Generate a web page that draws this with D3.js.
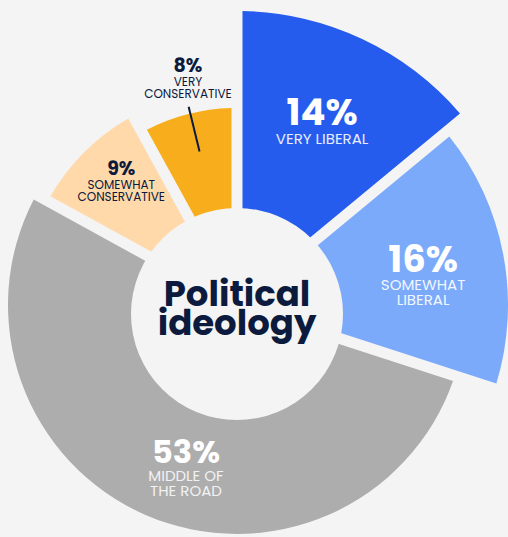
<!DOCTYPE html>
<html lang="en">
<head>
  <meta charset="UTF-8">
  <title>Political ideology</title>
  <script src="https://d3js.org/d3.v7.min.js"></script>
  <style>
    body, html {
      margin: 0;
      background: #f4f4f4;
    }
    svg { display: block; }
  </style>
</head>
<body>
  <svg width="508" height="537"></svg>
  <script>
    // data, clockwise from 12 o'clock
    const categories = ["very liberal", "somewhat liberal", "middle of the road", "somewhat conservative", "very conservative"];
    const shares = [14, 16, 53, 9, 8];
    const labelLines = [["VERY LIBERAL"], ["SOMEWHAT", "LIBERAL"], ["MIDDLE OF", "THE ROAD"], ["SOMEWHAT", "CONSERVATIVE"], ["VERY", "CONSERVATIVE"]];

    const svg = d3.select("svg"),
          cx = 237, cy = 305;

    const data = categories.map((c, i) => ({category: c, value: shares[i], lines: labelLines[i]}));

    // each slice gets its own outer radius (decorative, steps down clockwise)
    const outerR = d3.scaleOrdinal().domain(categories).range([294, 271, 229, 216, 197]);
    const color = d3.scaleOrdinal().domain(categories)
      .range(["#265ced", "#7baafa", "#adadad", "#ffd9a9", "#f8ae1c"]);
    // label anchor (radius, angle in degrees) for the number's baseline
    const labelR = d3.scaleOrdinal().domain(categories).range([199, 189, 166, 174, 238]);
    const labelA = d3.scaleOrdinal().domain(categories).range([25.3, 79.9, 197.9, 318.3, 348.1]);
    const bigFont = d3.scaleOrdinal().domain(categories).range([37, 37, 32, 19, 19]);
    const smallFont = d3.scaleOrdinal().domain(categories).range([15, 15, 15, 12, 12]);
    const dark = "#0c1a3d";
    const textFill = d3.scaleOrdinal().domain(categories).range(["#fff", "#fff", "#fff", dark, dark]);
    const subFill = d3.scaleOrdinal().domain(categories).range(["#e6edff", "#f2f6ff", "#f2f2f2", dark, dark]);

    const pie = d3.pie().sort(null).value(d => d.value);
    const arc = d3.arc()
      .innerRadius(80)
      .outerRadius(d => outerR(d.data.category))
      .padRadius(100)
      .padAngle(0.11);

    const g = svg.append("g").attr("transform", `translate(${cx},${cy})`);
    const arcs = pie(data);

    g.selectAll("path.slice")
      .data(arcs)
      .join("path")
      .attr("class", "slice")
      .attr("d", arc)
      .attr("fill", d => color(d.data.category));

    // the hole sits a little below the pie's centre
    g.append("circle")
      .attr("cx", 0).attr("cy", 9)
      .attr("r", 106)
      .attr("fill", "#f4f4f4");

    // leader line for the small outside label
    const vc = arcs[4];
    const mid = (vc.startAngle + vc.endAngle) / 2 + 0.012;
    g.append("line")
      .attr("x1", Math.sin(mid) * 158).attr("y1", -Math.cos(mid) * 158)
      .attr("x2", Math.sin(mid) * 204).attr("y2", -Math.cos(mid) * 204)
      .attr("stroke", dark).attr("stroke-width", 2);

    const font = "Poppins, Inter, 'Noto Sans', sans-serif";
    const labels = g.selectAll("g.label")
      .data(arcs)
      .join("g")
      .attr("class", "label")
      .attr("transform", d => {
        const a = labelA(d.data.category) * Math.PI / 180, r = labelR(d.data.category);
        return `translate(${Math.sin(a) * r},${-Math.cos(a) * r})`;
      });

    labels.append("text")
      .attr("text-anchor", "middle")
      .attr("font-family", font)
      .attr("font-weight", 700)
      .attr("font-size", d => bigFont(d.data.category))
      .attr("fill", d => textFill(d.data.category))
      .text(d => d.data.value + "%");

    labels.each(function(d) {
      const s = smallFont(d.data.category),
            big = s > 13;
      d3.select(this).selectAll("text.sub")
        .data(d.data.lines)
        .join("text")
        .attr("class", "sub")
        .attr("text-anchor", "middle")
        .attr("font-family", font)
        .attr("font-weight", 400)
        .attr("font-size", s)
        .attr("fill", subFill(d.data.category))
        .attr("y", (t, i) => (big ? 18.5 : 13.5) + i * (big ? 14.5 : 12.5))
        .text(t => t);
    });

    // title in the hole
    const title = g.append("text")
      .attr("text-anchor", "middle")
      .attr("font-family", font)
      .attr("font-weight", 700)
      .attr("font-size", 35.5)
      .attr("fill", dark);
    title.append("tspan").attr("x", 0).attr("y", 1).text("Political");
    title.append("tspan").attr("x", 0).attr("y", 30).text("ideology");
  </script>
</body>
</html>
